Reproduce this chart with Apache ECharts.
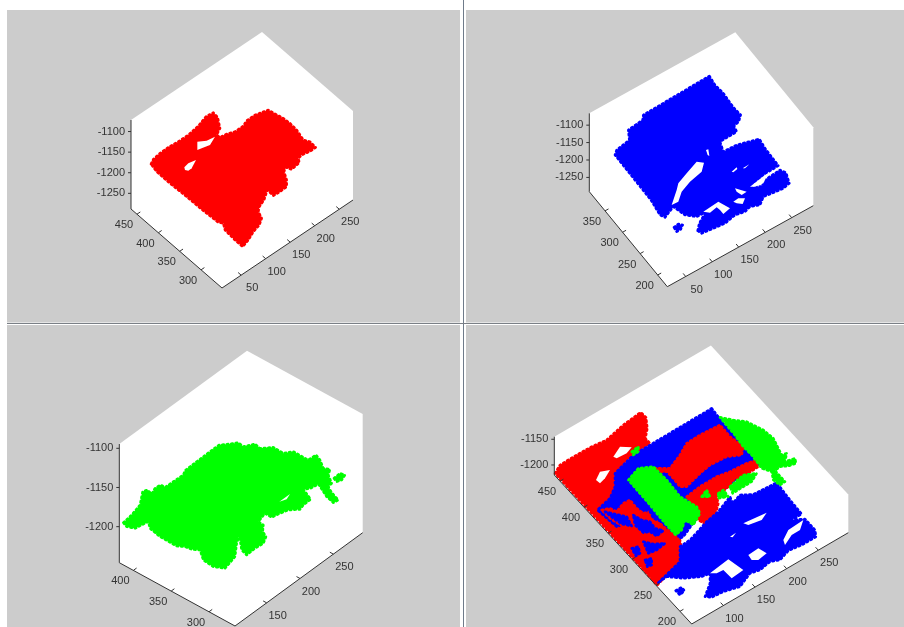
<!DOCTYPE html>
<html><head><meta charset="utf-8">
<style>html,body{margin:0;padding:0;background:#fff}#c{width:904px;height:627px;filter:blur(0.45px)}</style>
<script src="https://cdn.jsdelivr.net/npm/echarts@6/dist/echarts.min.js"></script>
</head><body><div id="c"></div>
<script>
// Tick values
const xTicksA=[50,100,150,200,250], yTicksA=[300,350,400,450], zTicksA=[-1250,-1200,-1150,-1100];
const xTicksB=[50,100,150,200,250], yTicksB=[200,250,300,350], zTicksB=[-1250,-1200,-1150,-1100];
const xTicksC=[150,200,250], yTicksC=[300,350,400], zTicksC=[-1200,-1150,-1100];
const xTicksD=[100,150,200,250], yTicksD=[200,250,300,350,400,450], zTicksD=[-1200,-1150];

// Point-cloud outlines in view-plane units (one per panel)
const redA=[[93,222],[100,208],[120,190],[145,172],[175,155],[205,135],[235,108],[258,80],[280,68],[293,82],[300,115],[290,135],[300,142],[318,133],[345,125],[370,108],[380,92],[405,75],[445,60],[462,70],[490,85],[510,100],[530,120],[550,150],[570,155],[587,172],[572,183],[545,195],[535,205],[538,218],[515,238],[497,232],[492,245],[500,270],[500,290],[480,305],[460,317],[442,300],[432,330],[418,350],[415,365],[425,385],[418,405],[400,425],[385,450],[368,470],[345,450],[315,420],[310,400],[295,397],[250,362],[200,320],[150,280],[110,245]];
const gapA1=[[232,155],[260,152],[285,140],[270,165],[245,175],[232,180]];
const gapA2=[[193,232],[205,220],[228,210],[215,235],[205,242],[195,240]];

const blueB=[[478,168],[495,195],[520,220],[550,262],[572,285],[566,305],[552,318],[560,335],[510,365],[520,395],[560,375],[628,357],[645,385],[685,437],[650,458],[600,500],[540,540],[470,575],[440,590],[405,585],[370,560],[345,592],[330,585],[303,540],[195,405],[200,390],[238,360],[235,330],[278,300],[280,285]];
const blueB2=[[443,632],[448,610],[465,580],[540,540],[600,500],[635,500],[645,480],[690,450],[708,458],[718,490],[700,505],[665,520],[640,530],[630,555],[600,560],[585,575],[555,585],[525,610],[490,625],[455,640]];
const blueB3=[[372,622],[385,612],[398,615],[392,628],[380,635]];
const gapB1=[[365,555],[380,510],[385,490],[410,460],[440,425],[462,428],[455,455],[420,485],[395,515],[385,545]];
const gapB2=[[460,575],[505,545],[540,565],[520,582],[510,570],[500,562],[480,578]];
const gapB3=[[555,505],[590,515],[575,525],[560,515]];
const gapB4=[[550,545],[565,535],[585,535],[578,552],[560,550]];
const gapB5=[[600,500],[645,465],[655,460],[640,490],[615,500]];
const gapB6=[[468,390],[475,388],[478,408],[473,405]];
const gapB7=[[545,455],[560,442],[562,447],[550,457]];
const gapB8=[[578,445],[598,433],[585,445]];

const greenC=[[160,548],[185,525],[210,495],[218,455],[232,450],[245,462],[255,445],[272,435],[285,442],[340,405],[345,392],[380,365],[420,335],[447,315],[480,312],[505,308],[520,320],[555,312],[570,325],[610,322],[640,340],[670,335],[700,352],[715,360],[738,345],[750,360],[760,385],[780,388],[775,405],[785,430],[775,440],[785,458],[805,480],[790,488],[770,470],[745,432],[722,445],[700,448],[722,478],[700,495],[690,508],[655,510],[625,522],[605,532],[585,520],[565,545],[580,555],[578,575],[588,590],[580,610],[555,625],[530,645],[515,630],[508,585],[500,610],[495,650],[465,685],[430,680],[400,660],[390,630],[365,628],[345,620],[320,618],[270,590],[240,565],[235,545],[215,555],[195,565],[170,560]];
const greenC2=[[792,415],[810,400],[825,405],[815,420],[800,425]];
const gapC1=[[628,485],[660,462],[650,478]];

const redD=[[135,400],[150,375],[200,345],[245,320],[290,300],[340,255],[392,217],[408,232],[412,265],[406,295],[420,310],[365,345],[330,385],[510,600],[518,655],[442,735]];
const gapD1=[[310,350],[330,320],[365,322],[350,340],[320,355]];
const gapD2=[[258,420],[270,395],[300,390],[285,415],[270,430]];
const blueD=[[605,205],[640,250],[672,282],[700,320],[725,345],[745,375],[680,420],[600,480],[520,590],[500,600],[420,530],[320,560],[262,510],[300,475],[315,440],[315,400],[370,345]];
const redD2=[[395,395],[430,385],[480,385],[510,345],[530,310],[570,285],[630,255],[660,290],[700,320],[695,345],[650,350],[600,375],[570,400],[530,440],[510,440],[490,415],[470,395]];
const redD3=[[530,470],[570,440],[620,410],[660,395],[710,370],[735,362],[745,380],[715,400],[670,420],[655,440],[620,470],[625,490],[615,530],[590,555],[565,540],[545,490]];
const redD4=[[275,510],[300,505],[320,515],[340,490],[360,480],[380,505],[400,520],[420,515],[440,540],[460,560],[500,590],[510,610],[510,660],[440,735],[370,650],[360,610],[340,560],[300,535]];
const blueD2=[[365,625],[385,620],[390,640],[378,648]];
const blueD3=[[405,660],[425,655],[425,675],[412,680]];
const blueD4=[[400,605],[430,612],[465,610],[440,630],[415,640]];
const blueD5=[[370,525],[395,540],[420,545],[435,565],[460,572],[440,588],[420,575],[400,578],[375,555]];
const blueD6=[[285,515],[315,522],[350,530],[365,558],[335,552],[310,535]];
const blueD7=[[415,505],[445,515],[455,545],[430,535]];
const blueD8=[[445,728],[510,665],[510,620],[540,600],[590,545],[625,515],[660,470],[668,490],[690,465],[730,463],[800,428],[840,480],[875,522],[845,540],[885,537],[915,570],[918,590],[875,615],[835,632],[810,660],[780,665],[750,690],[720,700],[690,740],[640,755],[605,772],[585,770],[600,730],[600,700],[575,710],[520,715],[470,710]];
const blueD9=[[497,752],[515,742],[523,752],[510,765]];
const gapD3=[[600,700],[655,658],[700,690],[665,715],[640,690],[620,700]];
const gapD4=[[700,550],[770,518],[755,540],[715,555]];
const gapD5=[[820,600],[835,570],[880,540],[870,570],[845,585],[825,615]];
const gapD6=[[715,645],[745,625],[770,640],[745,660],[725,660]];
const gapD7=[[660,590],[678,578],[668,592]];
const greenD=[[355,420],[385,385],[430,380],[470,420],[510,470],[560,500],[570,520],[550,555],[525,540],[515,570],[497,585],[465,550],[420,495]];
const greenD2=[[630,232],[670,240],[710,245],[760,270],[790,295],[815,345],[830,340],[825,365],[855,355],[858,370],[835,378],[810,380],[795,392],[825,425],[810,435],[790,420],[785,395],[755,385],[725,345],[700,320],[672,282]];
const greenD3=[[660,440],[700,405],[740,400],[725,425],[700,440],[668,460]];
const greenD4=[[625,460],[640,450],[655,470],[625,475]];
const greenD5=[[575,470],[590,450],[600,470]];
const greenD6=[[365,335],[385,320],[385,335],[370,345]];

const RED='#ff0000',BLUE='#0000ff',GREEN='#00ff00',WHITE='#ffffff';
const panels=[
 {rect:[7,10,453,312.5],plane:[120,90],B:[222,288],vx:[131,-88],vy:[-91,-79],vz:[0,-89],
  xl:[11,278],yl:[251,464],zl:[-1288,-1072],xt:xTicksA,yt:yTicksA,zt:zTicksA,
  blobs:[[RED,redA],[WHITE,gapA1],[WHITE,gapA2]]},
 {rect:[466,10,438,312.5],plane:[550,20],B:[667.3,286.7],vx:[146,-81],vy:[-78,-95],vz:[0,-78.4],
  xl:[15.3,290.8],yl:[172.6,394.8],zl:[-1291,-1066],xt:xTicksB,yt:yTicksB,zt:zTicksB,
  blobs:[[BLUE,blueB],[BLUE,blueB2],[BLUE,blueB3],[WHITE,gapB1],[WHITE,gapB2],[WHITE,gapB3],[WHITE,gapB4],[WHITE,gapB5],[WHITE,gapB6],[WHITE,gapB7],[WHITE,gapB8]]},
 {rect:[7,325,453,302],plane:[70,340],B:[235,626],vx:[127.7,-93.3],vy:[-115.7,-63.3],vz:[0,-118.7],
  xl:[102.5,294],yl:[265.6,418.6],zl:[-1246,-1094.5],xt:xTicksC,yt:yTicksC,zt:zTicksC,
  blobs:[[GREEN,greenC],[GREEN,greenC2],[WHITE,gapC1]]},
 {rect:[466,325,438,302],plane:[510,340],B:[691.7,624],vx:[156.6,-91.3],vy:[-137.4,-149],vz:[0,-38.3],
  xl:[50,297.4],yl:[175.6,461.9],zl:[-1219.5,-1145],xt:xTicksD,yt:yTicksD,zt:zTicksD,
  blobs:[[RED,redD],[WHITE,gapD1],[WHITE,gapD2],[BLUE,blueD],[RED,redD2],[RED,redD3],[RED,redD4],[BLUE,blueD2],[BLUE,blueD3],[BLUE,blueD4],[BLUE,blueD5],[BLUE,blueD6],[BLUE,blueD7],[BLUE,blueD8],[BLUE,blueD9],[WHITE,gapD3],[WHITE,gapD4],[WHITE,gapD5],[WHITE,gapD6],[WHITE,gapD7],[GREEN,greenD2],[GREEN,greenD],[GREEN,greenD3],[GREEN,greenD4],[GREEN,greenD5],[GREEN,greenD6]]}
];
const AX='#333333', FONT='11px "Liberation Sans", Arial, sans-serif', SCALE=3;

const grid=[],xAxis=[],yAxis=[],series=[];
panels.forEach((p,i)=>{
  const [l,t,w,h]=p.rect;
  grid.push({left:l,top:t,width:w,height:h,show:true,backgroundColor:'#cccccc',borderWidth:0});
  xAxis.push({type:'value',gridIndex:i,show:false,min:(l-p.plane[0])*SCALE,max:(l+w-p.plane[0])*SCALE});
  yAxis.push({type:'value',gridIndex:i,show:false,inverse:true,min:(t-p.plane[1])*SCALE,max:(t+h-p.plane[1])*SCALE});
  const proj=(x,y,z)=>{
    const a=(x-p.xl[0])/(p.xl[1]-p.xl[0]),b=(y-p.yl[0])/(p.yl[1]-p.yl[0]),c=(z-p.zl[0])/(p.zl[1]-p.zl[0]);
    return [(p.B[0]+a*p.vx[0]+b*p.vy[0]+c*p.vz[0]-p.plane[0])*SCALE,
            (p.B[1]+a*p.vx[1]+b*p.vy[1]+c*p.vz[1]-p.plane[1])*SCALE];
  };
  const [x0,x1]=p.xl,[y0,y1]=p.yl,[z0,z1]=p.zl;
  const base={type:'custom',xAxisIndex:i,yAxisIndex:i,silent:true,animation:false,clip:true,coordinateSystem:'cartesian2d'};
  const hex=[proj(x0,y0,z0),proj(x1,y0,z0),proj(x1,y0,z1),proj(x1,y1,z1),proj(x0,y1,z1),proj(x0,y1,z0)];
  series.push({...base,data:hex,renderItem:(params,api)=>{
    if(params.dataIndex!==0)return null;
    return {type:'polygon',shape:{points:hex.map(q=>api.coord(q))},style:{fill:'#ffffff'}};
  }});
  p.blobs.forEach(([col,pts])=>{
    series.push({...base,data:pts,renderItem:(params,api)=>{
      if(params.dataIndex!==0)return null;
      const s=col===WHITE?{fill:col}:{fill:col,stroke:col,lineWidth:2.6,lineJoin:'round',lineCap:'round',lineDash:[1.5,3]};
      return {type:'polygon',shape:{points:pts.map(q=>api.coord(q))},style:s};
    }});
  });
  const edges=[proj(x0,y1,z1),proj(x0,y1,z0),proj(x0,y0,z0),proj(x1,y0,z0)];
  series.push({...base,data:edges,renderItem:(params,api)=>{
    if(params.dataIndex!==0)return null;
    return {type:'polyline',shape:{points:edges.map(q=>api.coord(q))},style:{stroke:AX,lineWidth:1,fill:null}};
  }});
  const tickItems=[];
  p.xt.forEach(v=>tickItems.push(['x',v]));
  p.yt.forEach(v=>tickItems.push(['y',v]));
  p.zt.forEach(v=>tickItems.push(['z',v]));
  const norm=a=>{const n=Math.hypot(a[0],a[1]);return [a[0]/n,a[1]/n];};
  const nx=norm(p.vx),ny=norm(p.vy);
  series.push({...base,data:tickItems.map((_,k)=>[k,0]),renderItem:(params,api)=>{
    const [k,v]=tickItems[params.dataIndex];
    let q,dir,dx,dy,align,text=String(v);
    if(k==='x'){q=proj(v,y0,z0);dir=ny;dx=11;dy=13;align='center';}
    else if(k==='y'){q=proj(x0,v,z0);dir=nx;dx=-13;dy=11;align='center';}
    else {q=proj(x0,y1,v);dir=[-1,0];dx=-6;dy=0;align='right';}
    const c=api.coord(q),len=k==='z'?3:4;
    return {type:'group',children:[
      {type:'line',shape:{x1:c[0],y1:c[1],x2:c[0]+dir[0]*len,y2:c[1]+dir[1]*len},style:{stroke:AX,lineWidth:1}},
      {type:'text',style:{x:c[0]+dx,y:c[1]+dy,text:text,fill:AX,font:FONT,align:align,verticalAlign:'middle'}}
    ]};
  }});
});
const chart=echarts.init(document.getElementById('c'),null,{renderer:'canvas'});
chart.setOption({animation:false,backgroundColor:'#ffffff',grid,xAxis,yAxis,series,
  graphic:[
    {type:'rect',silent:true,shape:{x:463,y:0,width:1,height:627},style:{fill:'#6f7b8a'}},
    {type:'rect',silent:true,shape:{x:7,y:323,width:897,height:1},style:{fill:'#7a7f86'}}
  ]});
</script></body></html>
